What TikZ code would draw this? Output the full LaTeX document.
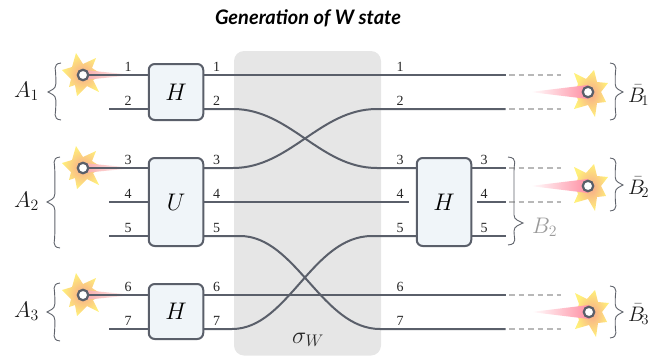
\documentclass[tikz,border=0pt]{standalone}
\usepackage{fix-cm}
\usepackage{fontspec}
\newfontfamily\titlefont{Lato}
\newfontfamily\numfont{Liberation Serif}
\definecolor{wirec}{HTML}{5A5F6A}
\definecolor{boxf}{HTML}{F0F5F9}
\definecolor{sigf}{HTML}{E6E6E6}
\definecolor{dashc}{HTML}{B8B8B8}
\definecolor{bracec}{HTML}{5F636B}
\definecolor{greyc}{HTML}{9A9A9A}
\definecolor{starin}{HTML}{F7A98A}
\definecolor{starout}{HTML}{FFF07A}
\definecolor{tailc}{HTML}{FF8FA3}
\definecolor{taill}{HTML}{F9A8A8}
\tikzset{
  x=1pt,y=-1pt,
  wire/.style={draw=wirec,line width=2pt},
  ghost/.style={draw=dashc,line width=1.5pt,dash pattern=on 5.5pt off 4pt},
  gate/.style={draw=wirec,fill=boxf,line width=2pt,rounded corners=6pt,inner sep=0pt,outer sep=0pt,minimum width=54.5pt,font=\fontsize{24}{24}\selectfont},
  dot/.style={circle,draw=wirec,fill=white,line width=2.2pt,minimum size=10.5pt,inner sep=0pt,outer sep=0pt},
  wlab/.style={inner sep=0pt,text=black!85,font=\numfont\fontsize{14}{14}\selectfont},
  big/.style={inner sep=0pt,anchor=base west,text=black!90,font=\fontsize{22.5}{22.5}\selectfont},
  bigb/.style={big,font=\fontsize{21}{21}\selectfont},
  curly/.style={draw=bracec,line width=0.9pt},
}
% left star: name, x, y
\newcommand{\emitL}[3]{%
  \begin{scope}[shift={(#2,#3)}]
    \shade[inner color=starin,outer color=starout]
      (-7,-22)--(0,-11)--(13,-17)--(9,-7)--(20,0)--(10,5)--(16,17)--(4,11)--(-6,21)--(-8,10)--(-14,12)--(-12,4)--(-21,-5)--(-11,-8)--cycle;
    \shade[left color=taill,right color=white] (0,-5)--(52,0)--(0,5)--cycle;
  \end{scope}
  \node[dot] (#1) at (#2,#3) {};}
% right star: name, x, y
\newcommand{\emitR}[3]{%
  \begin{scope}[shift={(#2,#3)}]
    \shade[inner color=starin,outer color=starout]
      (6,-22)--(9,-10)--(20,-9)--(13,0)--(18,10)--(9,11)--(7,25)--(0,13)--(-14,17)--(-10,8)--(-13,0)--(-10,-8)--(-14,-19)--(-2,-13)--cycle;
    \shade[left color=white,right color=tailc] (-58,0)--(0,-7)--(0,7)--cycle;
  \end{scope}
  \node[dot] (#1) at (#2,#3) {};}
% brace: x of open ends, x of tip, top, tip y, bottom
\newcommand{\curly}[5]{%
  \draw[curly] (#1,#3) .. controls ({#1+0.72*(#2-#1)},{#3+1}) and ({#1+0.35*(#2-#1)},{#3+8}) .. ({#1+0.4*(#2-#1)},{#3+14})
    -- ({#1+0.4*(#2-#1)},{#4-8}) .. controls ({#1+0.4*(#2-#1)},{#4-3}) and ({#1+0.75*(#2-#1)},{#4-2}) .. (#2,#4)
    .. controls ({#1+0.75*(#2-#1)},{#4+2}) and ({#1+0.4*(#2-#1)},{#4+3}) .. ({#1+0.4*(#2-#1)},{#4+8})
    -- ({#1+0.4*(#2-#1)},{#5-14}) .. controls ({#1+0.35*(#2-#1)},{#5-8}) and ({#1+0.72*(#2-#1)},{#5-1}) .. (#1,#5);}
\begin{document}
\begin{tikzpicture}
\useasboundingbox (0,0) rectangle (651,356);
% title
\node[inner sep=0pt,font=\titlefont\bfseries\itshape\fontsize{20}{20}\selectfont] (title) at (308,18) {Generation of W state};
% sigma region
\fill[sigf,rounded corners=10pt] (234,51) rectangle (381,355.5);
\node[inner sep=0pt,anchor=base west,text=black!85,font=\fontsize{24}{24}\selectfont] (sig) at (292,343) {$\sigma_W$};
% level coordinates
\foreach \n/\y in {1/75,2/109,3/168,4/202,5/236,6/295,7/329}{\coordinate (y\n) at (0,\y);}
\coordinate (s2) at (109,109);\coordinate (s4) at (109,202);\coordinate (s5) at (109,236);\coordinate (s7) at (109,329);
\foreach \n in {1,2,3,4,5,6,7}{\path (505.5,0 |- y\n) coordinate (e\n);\path (509,0 |- y\n) coordinate (f\n);\path (561,0 |- y\n) coordinate (g\n);}
% emitters
\emitL{a1}{83}{75}
\emitL{a2}{83}{168}
\emitL{a3}{83}{295}
\emitR{b1}{588}{92}
\emitR{b2}{588}{186}
\emitR{b3}{589}{312}
% gates
\node[gate,minimum height=56pt] (h1) at (176,92) {$H$};
\node[gate,minimum height=88pt] (u) at (176,202) {$U$};
\node[gate,minimum height=55pt] (h3) at (176,311.5) {$H$};
\node[gate,minimum height=88pt] (h2) at (444,202) {$H$};
\coordinate (m4) at (409,202);
\coordinate (o4) at (477,202);
% curve bends
\coordinate (p2) at (233,109);\coordinate (q2) at (377,168);
\coordinate (p3) at (233,168);\coordinate (q3) at (377,109);
\coordinate (p5) at (240,236);\coordinate (q5) at (380,329);
\coordinate (p7) at (232,329);\coordinate (q7) at (372,236);
% input wires
\draw[wire] (a1) -- (h1.west |- y1);
\draw[wire] (s2) -- (h1.west |- y2);
\draw[wire] (a2) -- (u.west |- y3);
\draw[wire] (s4) -- (u.west |- y4);
\draw[wire] (s5) -- (u.west |- y5);
\draw[wire] (a3) -- (h3.west |- y6);
\draw[wire] (s7) -- (h3.west |- y7);
% through wires
\draw[wire] (h1.east |- y1) -- (e1);
\draw[wire] (h1.east |- y2) -- (p2) .. controls (290,109) and (320,168) .. (q2) -- (h2.west |- y3);
\draw[wire] (u.east |- y3) -- (p3) .. controls (290,168) and (320,109) .. (q3) -- (e2);
\draw[wire] (u.east |- y4) -- (m4);
\draw[wire] (u.east |- y5) -- (p5) .. controls (296,236) and (322,329) .. (q5) -- (e7);
\draw[wire] (h3.east |- y6) -- (e6);
\draw[wire] (h3.east |- y7) -- (p7) .. controls (288,329) and (312,236) .. (q7) -- (h2.west |- y5);
% outputs of right gate
\draw[wire] (h2.east |- y3) -- (e3);
\draw[wire] (o4) -- (e4);
\draw[wire] (h2.east |- y5) -- (e5);
% ghost lines
\foreach \n in {1,2,3,4,6,7}{\draw[ghost] (f\n) -- (g\n);}
% wire labels
\foreach \n/\y in {1/67,2/101,3/160,4/194,5/228,6/287,7/321}{
  \node[wlab] (la\n) at (128,\y) {\n};
  \node[wlab] (lb\n) at (216.5,\y) {\n};
  \node[wlab] (lc\n) at (400,\y) {\n};
}
\node[wlab] (ld3) at (484,160) {3};
\node[wlab] (ld4) at (484,194) {4};
\node[wlab] (ld5) at (484,228) {5};
% braces
\curly{61}{48}{63}{92}{120}
\curly{60}{47}{157}{202}{248}
\curly{60}{47}{283}{312}{341}
\curly{610}{623}{63}{92}{120}
\curly{610}{623}{158}{185}{211}
\curly{610}{623}{286}{312}{338}
\begin{scope}[greyc]
\curly{508}{523}{157}{223}{245}
\end{scope}
% party labels
\node[big] (A1) at (14,97) {$A_1$};
\node[big] (A2) at (14,207) {$A_2$};
\node[big] (A3) at (14,317) {$A_3$};
\node[bigb] (B1) at (628,102) {$\bar B_{\!1}$};
\node[bigb] (B2) at (628,194) {$\bar B_{\!2}$};
\node[bigb] (B3) at (628,321) {$\bar B_{\!3}$};
\node[big,text=greyc] (B4) at (532,233) {$B_2$};
\end{tikzpicture}
\end{document}
